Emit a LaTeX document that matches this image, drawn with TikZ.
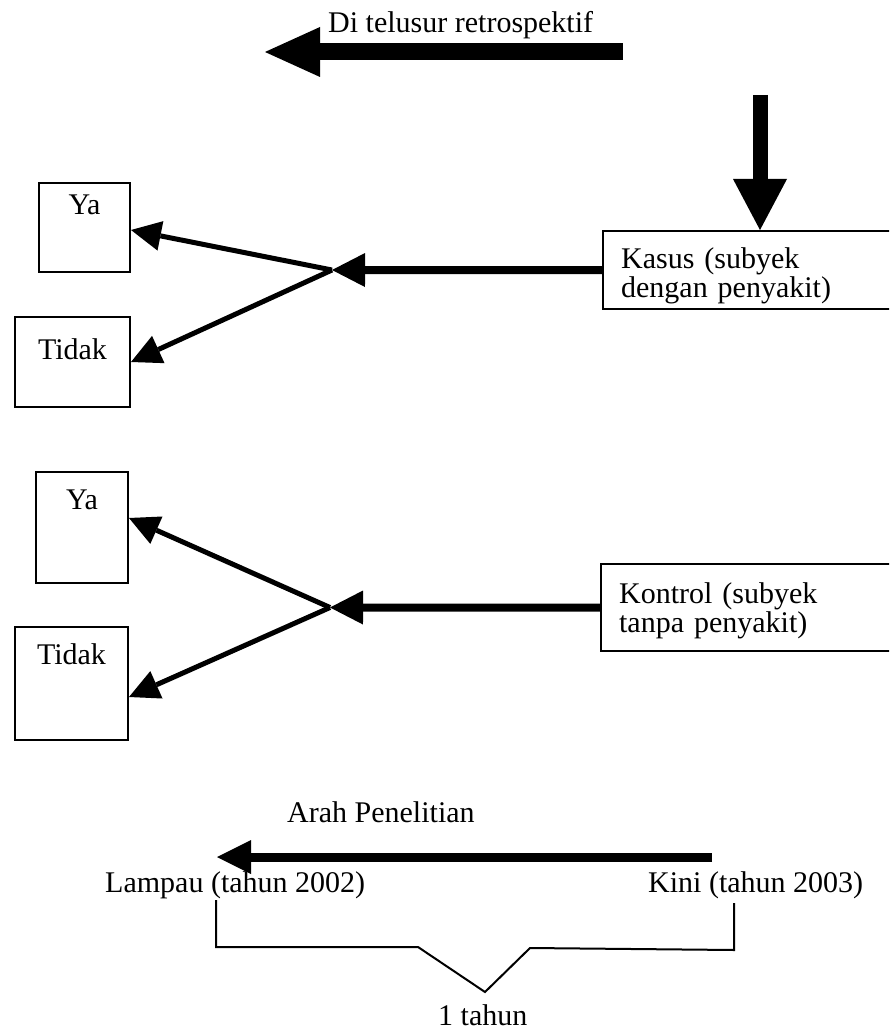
\documentclass[tikz,border=0pt]{standalone}
\usepackage{fontspec}
\setmainfont{Liberation Serif}
\usetikzlibrary{arrows.meta}
\begin{document}
\begin{tikzpicture}[x=1pt,y=-1pt,
  txt/.style={inner sep=0pt, font=\fontsize{30}{29}\selectfont},
  smallbox/.style={draw, line width=2pt, inner sep=0pt},
  bigbox/.style={draw, line width=2.2pt, anchor=north west, inner xsep=18pt, inner ysep=0pt,
     text width=330pt, align=left, font=\fontsize{30}{29}\selectfont},
  fatarrow/.style={line width=#1},
  branch/.style={line width=5pt, -{Triangle[length=30pt,width=30pt,line width=0pt]}},
  feed/.style={line width=8pt, -{Triangle[length=33pt,width=34pt,line width=0pt]}},
  bracketline/.style={line width=2pt}
]
\useasboundingbox (0,0) rectangle (889,1035);
\clip (0,0) rectangle (889,1035);

% top arrow and label
\node[txt, anchor=base west] (retro) at (328,33) {Di telusur retrospektif};
\coordinate (ta1) at (623,52);
\coordinate (ta2) at (265,52);
\draw[line width=17pt, -{Triangle[length=55pt,width=50pt,line width=0pt]}] (ta1) -- (ta2);

% case box and vertical arrow
\node[bigbox] (kasus) at (602,230) {\rule{0pt}{37pt}Kasus (subyek\\dengan penyakit)\rule[-12pt]{0pt}{12pt}};
\coordinate (va1) at (760,95);
\draw[line width=15pt, -{Triangle[length=51pt,width=54pt,line width=0pt]}] (va1) -- (kasus.north -| va1);

% upper group boxes
\node[smallbox, minimum width=91pt, minimum height=89pt,
  label={[txt,anchor=base,yshift=-32pt]north:Ya}] (ya1) at (84.5,227.5) {};
\node[smallbox, minimum width=115pt, minimum height=90pt,
  label={[txt,anchor=base,yshift=-43pt]north:Tidak}] (tidak1) at (72.5,362) {};
\coordinate (j1) at (332,270);
\draw[feed] (kasus.west) -- (j1);
\draw[branch] (j1) -- ([yshift=-2.5pt]ya1.east);
\draw[branch] (j1) -- (tidak1.east);

% control box
\node[bigbox] (kontrol) at (600,563) {\rule{0pt}{39pt}Kontrol (subyek\\tanpa penyakit)\rule[-19pt]{0pt}{19pt}};

% lower group boxes
\node[smallbox, minimum width=92pt, minimum height=111pt,
  label={[txt,anchor=base,yshift=-38pt]north:Ya}] (ya2) at (82,527.5) {};
\node[smallbox, minimum width=113pt, minimum height=113pt,
  label={[txt,anchor=base,yshift=-38pt]north:Tidak}] (tidak2) at (71.5,683.5) {};
\coordinate (j2) at (330,607.5);
\draw[feed] (kontrol.west) -- (j2);
\draw[branch] (j2) -- ([yshift=9.5pt]ya2.east);
\draw[branch] (j2) -- ([yshift=-13.5pt]tidak2.east);

% bottom timeline
\node[txt, anchor=base west] (arah) at (287,822) {Arah Penelitian};
\coordinate (ba1) at (712,857);
\coordinate (ba2) at (217,857);
\draw[line width=9pt, -{Triangle[length=34pt,width=34pt,line width=0pt]}] (ba1) -- (ba2);
\node[txt, anchor=base west] (lampau) at (105,892) {Lampau (tahun 2002)};
\node[txt, anchor=base west] (kini) at (648,892) {Kini (tahun 2003)};

\coordinate (b1) at (216,900);
\coordinate (b2) at (216,947);
\coordinate (b3) at (418,947);
\coordinate (b4) at (485,992);
\coordinate (b5) at (530,948);
\coordinate (b6) at (734,950);
\coordinate (b7) at (734,903);
\draw[bracketline] (b1) -- (b2) -- (b3) -- (b4) -- (b5) -- (b6) -- (b7);
\node[txt, anchor=base west] (satu) at (438,1025) {1 tahun};
\end{tikzpicture}
\end{document}
